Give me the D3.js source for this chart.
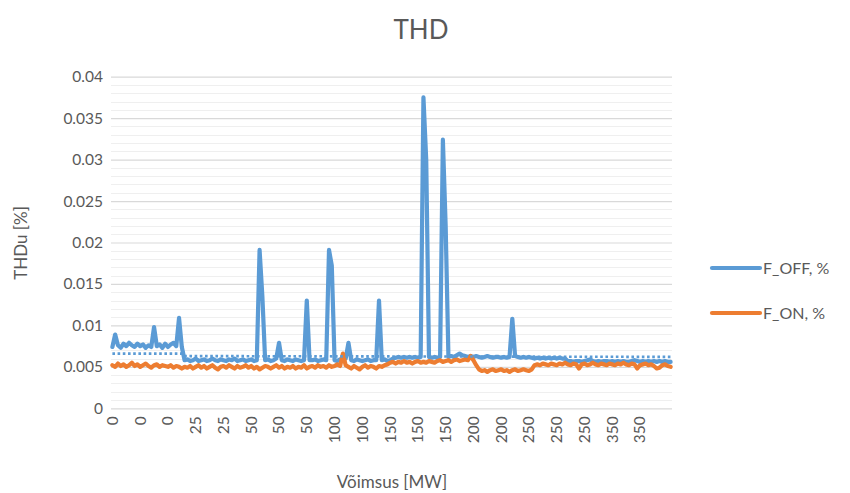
<!DOCTYPE html>
<html>
<head>
<meta charset="utf-8">
<script src="https://cdn.jsdelivr.net/npm/d3@7"></script>
<style>
  html, body { margin: 0; padding: 0; background: #fff; }
  svg { display: block; }
  text { font-family: Lato, "Open Sans", "DejaVu Sans", sans-serif; fill: #595959; }
</style>
</head>
<body>
<svg id="chart" width="850" height="493"></svg>
<script>
// ---------------- data ----------------
const title = "THD";
const yTitle = "THDu [%]";
const xTitle = "Võimsus [MW]";
const seriesNames = ["F_OFF, %", "F_ON, %"];

// category axis labels (one label every 10th sample)
const tickLabels = ["0","0","0","25","25","50","50","50","100","100",
                    "150","150","150","200","200","250","250","250","350","350"];
const labelEvery = 10;

const fOff = [
  0.0074,0.0089,0.0076,0.0073,0.0078,0.0075,0.0079,0.0076,0.0074,0.0078,
  0.0075,0.0077,0.0073,0.0076,0.0074,0.0098,0.0075,0.0077,0.0073,0.0078,
  0.0074,0.0077,0.0079,0.0075,0.0109,0.0074,0.0058,0.0059,0.0057,0.0058,
  0.0060,0.0057,0.0058,0.0059,0.0057,0.0058,0.0060,0.0058,0.0057,0.0059,
  0.0058,0.0057,0.0059,0.0058,0.0060,0.0057,0.0058,0.0059,0.0057,0.0058,
  0.0059,0.0057,0.0058,0.0191,0.0135,0.0058,0.0059,0.0057,0.0058,0.0060,
  0.0079,0.0058,0.0057,0.0059,0.0058,0.0057,0.0059,0.0058,0.0057,0.0058,
  0.0130,0.0058,0.0058,0.0059,0.0057,0.0058,0.0059,0.0058,0.0191,0.0172,
  0.0058,0.0057,0.0059,0.0058,0.0060,0.0079,0.0058,0.0057,0.0059,0.0058,
  0.0057,0.0058,0.0059,0.0057,0.0058,0.0058,0.0130,0.0058,0.0059,0.0057,
  0.0058,0.0060,0.0061,0.0062,0.0061,0.0062,0.0061,0.0062,0.0061,0.0062,
  0.0061,0.0062,0.0375,0.0300,0.0062,0.0061,0.0062,0.0061,0.0062,0.0324,
  0.0220,0.0062,0.0063,0.0062,0.0064,0.0066,0.0064,0.0063,0.0062,0.0063,
  0.0062,0.0063,0.0062,0.0061,0.0062,0.0063,0.0062,0.0061,0.0062,0.0062,
  0.0061,0.0062,0.0061,0.0062,0.0108,0.0063,0.0062,0.0061,0.0062,0.0061,
  0.0062,0.0061,0.0060,0.0061,0.0060,0.0061,0.0060,0.0061,0.0060,0.0061,
  0.0060,0.0061,0.0060,0.0060,0.0057,0.0057,0.0056,0.0057,0.0057,0.0056,
  0.0057,0.0058,0.0059,0.0057,0.0056,0.0057,0.0056,0.0057,0.0057,0.0056,
  0.0057,0.0056,0.0057,0.0056,0.0057,0.0056,0.0056,0.0057,0.0058,0.0057,
  0.0056,0.0057,0.0056,0.0057,0.0056,0.0057,0.0056,0.0057,0.0056,0.0057,
  0.0056,0.0056
];

const fOn = [
  0.0052,0.0050,0.0054,0.0051,0.0053,0.0050,0.0052,0.0055,0.0051,0.0053,
  0.0050,0.0052,0.0054,0.0051,0.0049,0.0052,0.0053,0.0050,0.0052,0.0051,
  0.0050,0.0052,0.0049,0.0051,0.0050,0.0048,0.0050,0.0049,0.0051,0.0048,
  0.0050,0.0052,0.0049,0.0051,0.0048,0.0050,0.0052,0.0049,0.0047,0.0050,
  0.0051,0.0049,0.0052,0.0050,0.0048,0.0051,0.0049,0.0050,0.0052,0.0049,
  0.0051,0.0048,0.0050,0.0047,0.0049,0.0051,0.0050,0.0048,0.0050,0.0052,
  0.0049,0.0051,0.0048,0.0050,0.0049,0.0051,0.0048,0.0050,0.0049,0.0052,
  0.0048,0.0050,0.0051,0.0049,0.0052,0.0050,0.0051,0.0049,0.0052,0.0050,
  0.0051,0.0053,0.0051,0.0066,0.0052,0.0050,0.0048,0.0051,0.0049,0.0047,
  0.0050,0.0052,0.0049,0.0051,0.0050,0.0048,0.0051,0.0050,0.0052,0.0053,
  0.0055,0.0056,0.0054,0.0056,0.0055,0.0057,0.0055,0.0056,0.0054,0.0056,
  0.0057,0.0055,0.0056,0.0055,0.0057,0.0056,0.0055,0.0057,0.0058,0.0056,
  0.0057,0.0058,0.0056,0.0058,0.0059,0.0057,0.0058,0.0059,0.0058,0.0063,
  0.0058,0.0052,0.0047,0.0045,0.0046,0.0044,0.0046,0.0047,0.0045,0.0046,
  0.0047,0.0045,0.0046,0.0044,0.0046,0.0047,0.0045,0.0046,0.0047,0.0046,
  0.0045,0.0047,0.0052,0.0053,0.0052,0.0054,0.0053,0.0052,0.0054,0.0053,
  0.0052,0.0054,0.0053,0.0055,0.0053,0.0052,0.0054,0.0053,0.0048,0.0053,
  0.0054,0.0052,0.0053,0.0055,0.0053,0.0052,0.0054,0.0053,0.0052,0.0054,
  0.0053,0.0052,0.0054,0.0053,0.0055,0.0053,0.0052,0.0054,0.0053,0.0048,
  0.0052,0.0053,0.0054,0.0052,0.0053,0.0051,0.0048,0.0049,0.0052,0.0053,
  0.0051,0.0050
];

// dotted trend line of F_OFF (sample index, value)
const trendIdx = [0, 25, 26, 201];
const trendVal = [0.0066, 0.0066, 0.0063, 0.0062];

const yMax = 0.04, yMajor = 0.005, yMinor = 0.001;

// ---------------- layout ----------------
const W = 850, H = 493;
const plot = { left: 111, right: 672, top: 76.7, bottom: 408.3 };
const colors = ["#5b9bd5", "#ed7d31"];

const svg = d3.select("#chart");

const n = fOff.length;
const x = d3.scaleBand().domain(d3.range(n)).range([plot.left, plot.right]).padding(0);
const xc = i => x(i) + x.bandwidth() / 2;
const y = d3.scaleLinear().domain([0, yMax]).range([plot.bottom, plot.top]);

// minor gridlines
const minorTicks = d3.range(0, yMax + 1e-9, yMinor).filter(v => Math.abs(v / yMajor - Math.round(v / yMajor)) > 1e-6);
svg.append("g").selectAll("line").data(minorTicks).join("line")
  .attr("x1", plot.left).attr("x2", plot.right)
  .attr("y1", d => Math.round(y(d)) + 0.5).attr("y2", d => Math.round(y(d)) + 0.5)
  .attr("stroke", "#efefef").attr("stroke-width", 1);

// major gridlines + y axis labels
const majorTicks = d3.range(0, yMax + 1e-9, yMajor);
const yAxis = d3.axisLeft(y).tickValues(majorTicks)
  .tickFormat(d => d === 0 ? "0" : d3.format("")(+d.toFixed(3)))
  .tickSize(plot.left - plot.right).tickPadding(8);
const yg = svg.append("g").attr("transform", `translate(${plot.left},0)`).call(yAxis);
yg.select(".domain").remove();
yg.selectAll(".tick line").attr("stroke", "#d9d9d9").attr("stroke-width", 1.2);
yg.selectAll(".tick text").attr("fill", "#595959").style("font-size", "15.5px")
  .attr("font-family", "Lato, 'Open Sans', sans-serif");

// x axis labels (category labels, rotated)
const xTickIdx = tickLabels.map((_, k) => k * labelEvery);
const xAxis = d3.axisBottom(x).tickValues(xTickIdx)
  .tickFormat((d, k) => tickLabels[k]).tickSize(0).tickPadding(0);
const xg = svg.append("g").attr("transform", `translate(0,${plot.bottom})`).call(xAxis);
xg.select(".domain").remove();
xg.selectAll(".tick text")
  .attr("fill", "#595959").style("font-size", "15.5px")
  .attr("font-family", "Lato, 'Open Sans', sans-serif")
  .attr("text-anchor", "end")
  .attr("dy", "0.35em")
  .attr("transform", "translate(0,8) rotate(-90)")
  .attr("x", 0).attr("y", 0);

// lines
const line = d3.line().x((d, i) => xc(i)).y(d => y(d)).curve(d3.curveLinear);
[fOff, fOn].forEach((s, k) => {
  svg.append("path").datum(s)
    .attr("d", line)
    .attr("fill", "none")
    .attr("stroke", colors[k])
    .attr("stroke-width", 4.2)
    .attr("stroke-linejoin", "round")
    .attr("stroke-linecap", "round");
});

// dotted trend
const trendLine = d3.line().x(d => xc(d[0])).y(d => y(d[1]));
svg.append("path").datum(trendIdx.map((t, i) => [t, trendVal[i]]))
  .attr("d", trendLine).attr("fill", "none")
  .attr("stroke", colors[0]).attr("stroke-width", 2.6)
  .attr("stroke-dasharray", "2.6,2.6");

// title
svg.append("text").attr("x", 421).attr("y", 39).attr("text-anchor", "middle")
  .style("font-size", "26px").text(title);

// axis titles
svg.append("text").attr("transform", "translate(27,243) rotate(-90)")
  .attr("text-anchor", "middle").style("font-size", "17px").text(yTitle);
svg.append("text").attr("x", 392).attr("y", 488)
  .attr("text-anchor", "middle").style("font-size", "17px").text(xTitle);

// legend
const legend = svg.append("g");
seriesNames.forEach((name, k) => {
  const ly = 268 + k * 45;
  legend.append("line").attr("x1", 712).attr("x2", 760).attr("y1", ly).attr("y2", ly)
    .attr("stroke", colors[k]).attr("stroke-width", 4.2).attr("stroke-linecap", "round");
  legend.append("text").attr("x", 763).attr("y", ly).attr("dy", "0.35em")
    .style("font-size", "16px").text(name);
});
</script>
</body>
</html>
